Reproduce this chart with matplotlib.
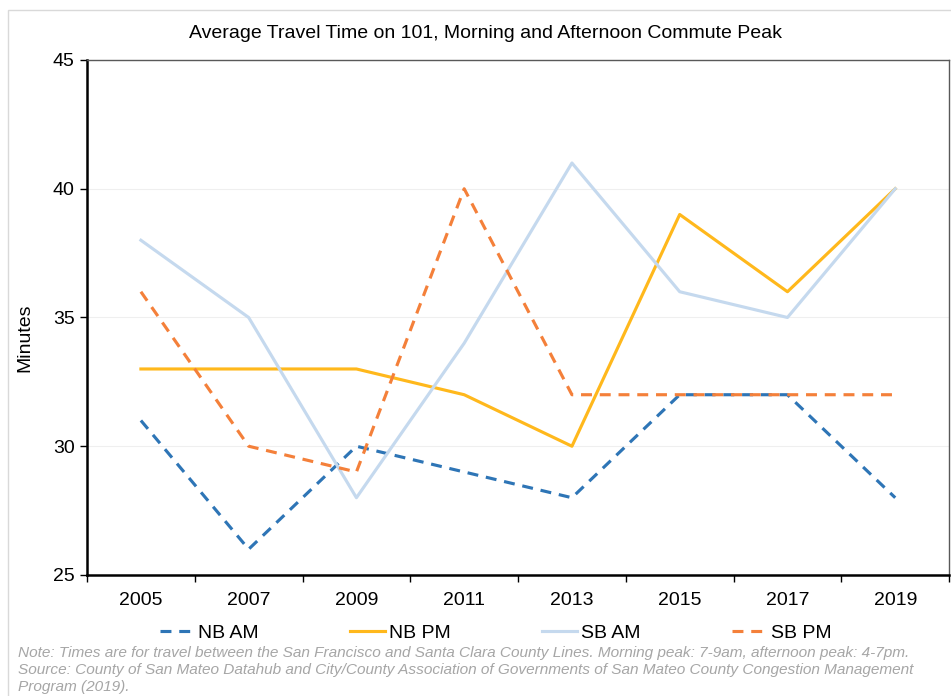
import matplotlib.pyplot as plt
from matplotlib.patches import Rectangle

plt.rcParams['font.family'] = ['Liberation Sans', 'DejaVu Sans']

years = ["2005", "2007", "2009", "2011", "2013", "2015", "2017", "2019"]
nb_am = [31, 26, 30, 29, 28, 32, 32, 28]
nb_pm = [33, 33, 33, 32, 30, 39, 36, 40]
sb_am = [38, 35, 28, 34, 41, 36, 35, 40]
sb_pm = [36, 30, 29, 40, 32, 32, 32, 32]

note = ("Note: Times are for travel between the San Francisco and Santa Clara County Lines. "
        "Morning peak: 7-9am, afternoon peak: 4-7pm.\n"
        "Source: County of San Mateo Datahub and City/County Association of Governments of "
        "San Mateo County Congestion Management\nProgram (2019).")

fig = plt.figure(figsize=(9.51, 6.96), dpi=100)
ax = fig.add_axes([0.0915, 0.1739, 0.9065, 0.7399])

# outer chart border
fig.patches.append(Rectangle((8 / 951, -0.1), 1.0, 1 - 10 / 696 + 0.1,
                             transform=fig.transFigure, fill=False,
                             edgecolor="#d9d9d9", lw=1.0))

x = range(len(years))
lw = 2.25
ax.plot(x, nb_am, color="#2E75B6", lw=lw, dashes=(3.5, 2.5), label="NB AM")
ax.plot(x, nb_pm, color="#FFB81C", lw=lw, label="NB PM")
ax.plot(x, sb_am, color="#C5D9EE", lw=lw, label="SB AM")
ax.plot(x, sb_pm, color="#F4803A", lw=lw, dashes=(3.5, 2.5), label="SB PM")

ax.set_xlim(-0.5, len(years) - 0.5)
ax.set_ylim(25, 45)
ax.set_yticks([25, 30, 35, 40, 45])
ax.set_xticks(list(x))
ax.set_xticklabels(years)
ax.set_xticks([i + 0.5 for i in range(-1, len(years))], minor=True)
ax.tick_params(axis="x", which="major", length=0, labelsize=14, pad=12)
ax.tick_params(axis="x", which="minor", length=5, width=1)
ax.tick_params(axis="y", length=5, width=1, labelsize=14, pad=4)
ax.grid(axis="y", color="#efefef", lw=0.8)
ax.set_axisbelow(True)

for s in ("left", "bottom"):
    ax.spines[s].set_linewidth(1.8)
    ax.spines[s].set_color("black")
for s in ("top", "right"):
    ax.spines[s].set_linewidth(1.0)
    ax.spines[s].set_color("#595959")

ax.set_ylabel("Minutes", fontsize=14)
ax.yaxis.set_label_coords(-0.0625, 0.46)
fig.text(0.51, 1 - 33 / 696, "Average Travel Time on 101, Morning and Afternoon Commute Peak",
         ha="center", va="center", fontsize=14)

ax.legend(loc="center", bbox_to_anchor=(0.474, -0.1126), ncol=4, frameon=False,
          fontsize=14, handlelength=1.8, handletextpad=0.2, columnspacing=4.7)

fig.text(18 / 951, 1 - 646 / 696, note, ha="left", va="top", fontsize=11.1,
         style="italic", color="#a6a6a6", linespacing=1.27)

fig.savefig("out.png", dpi=100)
